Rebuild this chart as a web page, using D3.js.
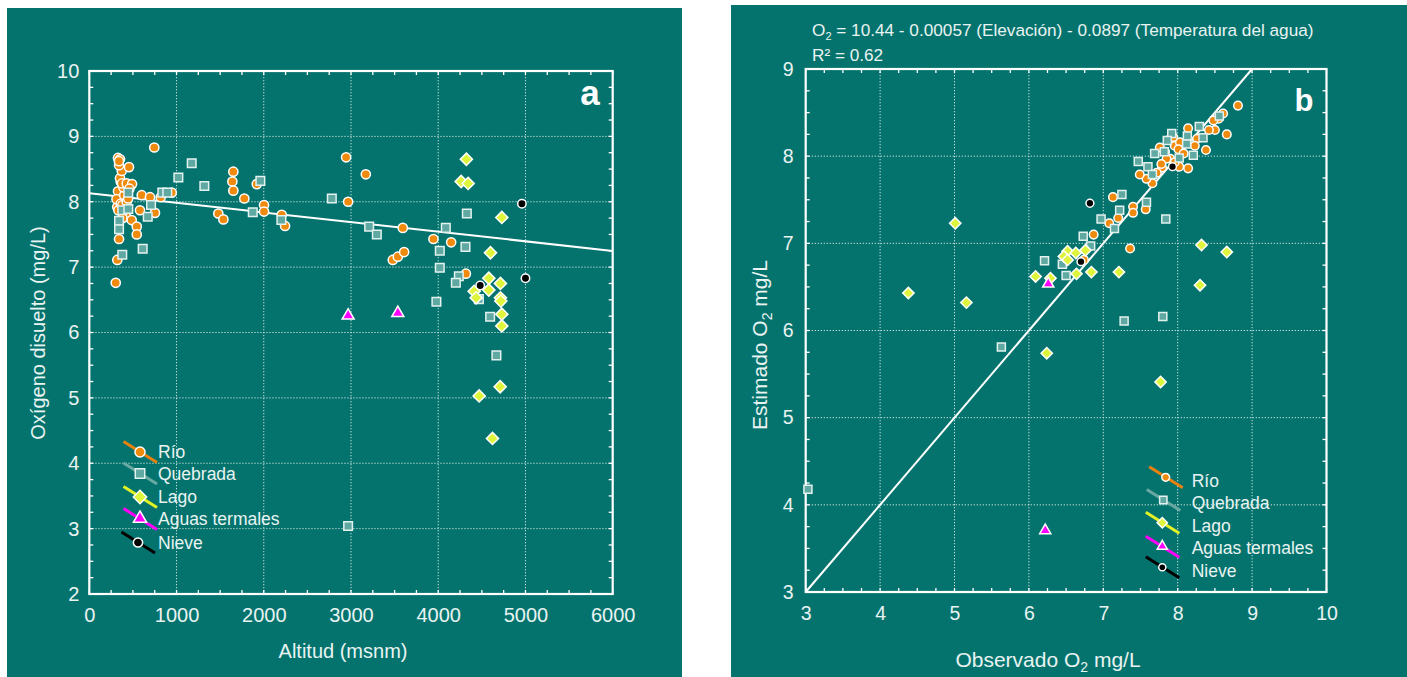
<!DOCTYPE html>
<html>
<head>
<meta charset="utf-8">
<script src="https://cdn.jsdelivr.net/npm/d3@7"></script>
<style>
  body { margin: 0; background: #fff; }
  svg { display: block; }
  text { font-family: "Liberation Sans", Arial, sans-serif; }
</style>
</head>
<body>
<svg id="chart" width="1407" height="677"></svg>
<script>
// ---------- Panel a: altitude (m a.s.l.) vs dissolved oxygen (mg/L) ----------
const rioA = [
  [303,6.76],[321,7.11],[341,7.43],[320,7.92],[333,7.87],[333,8.05],[329,8.16],[360,8.31],
  [352,8.36],[372,8.47],[341,8.56],[329,8.67],[352,8.65],[340,8.62],[312,8.04],[360,7.97],
  [380,7.95],[400,8.10],[390,8.22],[375,8.28],[455,8.53],[429,8.28],[490,8.27],[429,8.00],
  [445,8.05],[460,8.20],[421,7.77],[380,7.75],[486,7.72],[544,7.62],[544,7.50],[581,7.87],
  [601,8.10],[696,8.07],[753,7.83],[745,8.83],[819,8.07],[945,8.14],[1479,7.82],[1537,7.73],
  [1640,8.31],[1651,8.46],[1651,8.17],[1777,8.05],[1920,8.27],[2003,7.95],[2003,7.85],
  [2206,7.80],[2244,7.63],[2944,8.68],[2967,8.00],[3170,8.42],[3479,7.11],[3537,7.16],
  [3609,7.23],[3594,7.60],[3945,7.43],[4148,7.38],[4317,6.90]
];
const quebradaA = [
  [1174,8.59],[1021,8.37],[1319,8.24],[837,8.14],[894,8.14],[447,8.14],[708,7.95],[378,7.87],
  [447,7.89],[670,7.77],[341,7.71],[341,7.58],[612,7.28],[378,7.19],[1961,8.32],[1874,7.84],
  [2202,7.72],[2780,8.05],[3208,7.62],[3296,7.50],[4087,7.60],[4328,7.82],[4312,7.31],
  [4018,7.25],[4018,6.99],[4236,6.86],[4202,6.76],[3979,6.47],[4466,6.51],[4595,6.24],
  [4667,5.65],[2967,3.04]
];
const lagoA = [
  [4323,8.65],[4263,8.31],[4343,8.28],[4729,7.76],[4599,7.22],[4580,6.83],[4713,6.75],
  [4580,6.65],[4412,6.63],[4435,6.53],[4713,6.53],[4718,6.48],[4729,6.28],[4729,6.10],
  [4710,5.17],[4469,5.03],[4622,4.38]
];
const aguasA = [[2967,6.25],[3537,6.29]];
const nieveA = [[4959,7.97],[5000,6.83],[4481,6.72]];
// fitted line: O2 = 8.13 - 0.000147 * altitude
const fitA = { intercept: 8.13, slope: -0.000147 };
const xTicksA = [0,1000,2000,3000,4000,5000,6000];
const yTicksA = [2,3,4,5,6,7,8,9,10];

// ---------- Panel b: observed vs estimated O2 ----------
const rioB = [
  [8.81,8.58],[8.66,8.25],[8.61,8.49],[8.55,8.43],[8.48,8.41],[8.50,8.30],[8.42,8.30],
  [8.14,8.32],[8.26,8.20],[8.23,8.12],[8.38,8.07],[8.14,7.86],[8.02,7.88],[7.90,7.97],
  [7.79,7.87],[7.72,7.81],[7.66,7.69],[7.58,7.74],[7.49,7.79],[7.83,8.05],[7.96,8.12],
  [8.03,8.16],[7.76,8.10],[7.90,8.20],[8.01,8.08],[8.08,8.03],[7.94,8.22],[7.85,7.97],
  [7.96,7.93],[7.78,7.91],[7.13,7.53],[7.40,7.42],[7.40,7.35],[7.57,7.39],[7.20,7.29],
  [7.08,7.23],[6.87,7.10],[7.36,6.94],[6.74,6.81]
];
const quebradaB = [
  [8.56,8.46],[8.29,8.34],[8.34,8.21],[8.13,8.23],[8.12,8.14],[7.92,8.26],[7.86,8.18],
  [7.82,8.05],[7.69,8.03],[8.21,8.01],[8.02,7.98],[7.47,7.94],[7.60,7.88],[7.66,7.79],
  [7.25,7.56],[7.58,7.47],[7.22,7.38],[6.97,7.28],[7.15,7.17],[7.84,7.28],[6.73,7.08],
  [6.83,6.97],[6.21,6.80],[6.45,6.76],[6.50,6.63],[5.63,5.81],[7.28,6.11],[7.80,6.16],
  [3.03,4.18]
];
const lagoB = [
  [5.01,7.23],[4.38,6.43],[5.16,6.32],[6.24,5.74],[6.09,6.62],[6.29,6.60],[6.52,6.91],
  [6.47,6.85],[6.52,6.81],[6.63,6.89],[6.76,6.92],[6.64,6.65],[6.84,6.67],[7.21,6.67],
  [8.32,6.98],[8.66,6.90],[8.30,6.52],[7.77,5.41]
];
const aguasB = [[6.26,6.53],[6.22,3.70]];
const nieveB = [[6.82,7.46],[6.70,6.79],[7.93,7.88]];
// 1:1 reference line
const identityB = [[3,3],[9,9]];
const xTicksB = [3,4,5,6,7,8,9,10];
const yTicksB = [3,4,5,6,7,8,9];

const seriesNames = ["Río","Quebrada","Lago","Aguas termales","Nieve"];

// ---------- styling ----------
const TEAL = "#04736e";
const INK = "#e9f3f1";
const styles = {
  "Río":            { shape: "circle",   fill: "#ef8a0c", stroke: "#ffffff", line: "#e8820f" },
  "Quebrada":       { shape: "square",   fill: "#5fa9a2", stroke: "#e3f1ef", line: "#6aa9a2" },
  "Lago":           { shape: "diamond",  fill: "#def53c", stroke: "#ffffff", line: "#e2f224" },
  "Aguas termales": { shape: "triangle", fill: "#ff00ff", stroke: "#ffffff", line: "#ff00ff" },
  "Nieve":          { shape: "dot",      fill: "#000000", stroke: "#ffffff", line: "#000000" }
};

function symbolPath(shape, s) {
  const gen = d3.symbol();
  if (shape === "circle") return gen.type(d3.symbolCircle).size(Math.PI * (4.6*s) * (4.6*s))();
  if (shape === "dot") return gen.type(d3.symbolCircle).size(Math.PI * (4.2*s) * (4.2*s))();
  if (shape === "square" || shape === "diamond") return gen.type(d3.symbolSquare).size((8.6*s) * (8.6*s))();
  return gen.type(d3.symbolTriangle).size(Math.sqrt(3) / 4 * (12*s) * (12*s))();
}
function drawMarker(g, name, cx, cy, s) {
  const st = styles[name];
  return g.append("path")
    .attr("d", symbolPath(st.shape, s))
    .attr("transform", `translate(${cx},${cy})` + (st.shape === "diamond" ? " rotate(45)" : "") +
                        (st.shape === "triangle" ? " translate(0,-0.5)" : ""))
    .attr("fill", st.fill)
    .attr("stroke", st.stroke)
    .attr("stroke-width", 1.5);
}

const svg = d3.select("#chart");
svg.append("rect").attr("width", 1407).attr("height", 677).attr("fill", "#fff");
svg.append("rect").attr("x", 7).attr("y", 8).attr("width", 675).attr("height", 669).attr("fill", TEAL);
svg.append("rect").attr("x", 731).attr("y", 5).attr("width", 676).attr("height", 672).attr("fill", TEAL);

function drawPanel(o) {
  const g = svg.append("g");
  const x = d3.scaleLinear().domain(o.xDomain).range(o.xRange);
  const y = d3.scaleLinear().domain(o.yDomain).range(o.yRange);
  const [L, R] = o.xRange, [B, T] = o.yRange;

  // dotted grid at inner major ticks
  const grid = g.append("g").attr("stroke", "#d6eae7").attr("stroke-width", 1)
    .attr("stroke-dasharray", "1.3,1.7").attr("stroke-opacity", 0.9);
  grid.selectAll(".gx").data(o.xTicks.slice(1, -1)).join("line")
    .attr("x1", d => x(d)).attr("x2", d => x(d)).attr("y1", T).attr("y2", B);
  grid.selectAll(".gy").data(o.yTicks.slice(1, -1)).join("line")
    .attr("y1", d => y(d)).attr("y2", d => y(d)).attr("x1", L).attr("x2", R);

  // small inward ticks on all four sides
  const mt = g.append("g").attr("stroke", "#ffffff").attr("stroke-width", 1.3);
  const xm = d3.range(o.xDomain[0], o.xDomain[1] + 1e-9, o.xMinor);
  const ym = d3.range(o.yDomain[0], o.yDomain[1] + 1e-9, o.yMinor);
  xm.forEach(v => {
    mt.append("line").attr("x1", x(v)).attr("x2", x(v)).attr("y1", B).attr("y2", B - 4);
    mt.append("line").attr("x1", x(v)).attr("x2", x(v)).attr("y1", T).attr("y2", T + 4);
  });
  ym.forEach(v => {
    mt.append("line").attr("y1", y(v)).attr("y2", y(v)).attr("x1", L).attr("x2", L + 4);
    mt.append("line").attr("y1", y(v)).attr("y2", y(v)).attr("x1", R).attr("x2", R - 4);
  });

  // frame
  g.append("rect").attr("x", L).attr("y", T).attr("width", R - L).attr("height", B - T)
    .attr("fill", "none").attr("stroke", "#ffffff").attr("stroke-width", 2.2);

  // axes (labels only)
  g.append("g").attr("transform", `translate(0,${B})`)
    .call(d3.axisBottom(x).tickValues(o.xTicks).tickFormat(d3.format("d")).tickSize(0).tickPadding(o.xPad))
    .call(a => a.select(".domain").remove())
    .attr("font-size", o.tickFont).attr("font-family", "Liberation Sans, Arial, sans-serif").attr("color", INK);
  g.append("g").attr("transform", `translate(${L},0)`)
    .call(d3.axisLeft(y).tickValues(o.yTicks).tickFormat(d3.format("d")).tickSize(0).tickPadding(o.yPad))
    .call(a => a.select(".domain").remove())
    .attr("font-size", o.tickFont).attr("font-family", "Liberation Sans, Arial, sans-serif").attr("color", INK);

  // fitted / reference line
  g.append("line")
    .attr("x1", x(o.line[0][0])).attr("y1", y(o.line[0][1]))
    .attr("x2", x(o.line[1][0])).attr("y2", y(o.line[1][1]))
    .attr("stroke", "#ffffff").attr("stroke-width", 2);

  // points
  o.series.forEach(([name, data]) => {
    const pg = g.append("g");
    data.forEach(d => drawMarker(pg, name, x(d[0]), y(d[1]), o.markerScale));
  });

  // legend
  const lg = g.append("g");
  seriesNames.forEach((name, i) => {
    const [mx, my] = o.legend.markers[i];
    lg.append("line").attr("x1", mx - 16.5).attr("y1", my - 10.5).attr("x2", mx + 17).attr("y2", my + 10.5)
      .attr("stroke", styles[name].line).attr("stroke-width", 3);
    drawMarker(lg, name, mx, my, o.legend.scale);
    lg.append("text").attr("x", o.legend.textX).attr("y", o.legend.baselines[i])
      .attr("font-size", o.legend.font).attr("fill", INK).text(name);
  });

  return { g, x, y };
}

// ----- Panel a -----
const pa = drawPanel({
  xDomain: [0, 6000], yDomain: [2, 10],
  xRange: [89.3, 612.7], yRange: [594, 71],
  xTicks: xTicksA, yTicks: yTicksA, xMinor: 250, yMinor: 0.25,
  tickFont: 20, xPad: 14, yPad: 10, markerScale: 1,
  line: [[0, fitA.intercept], [6000, fitA.intercept + fitA.slope * 6000]],
  series: [["Río", rioA], ["Quebrada", quebradaA], ["Lago", lagoA], ["Aguas termales", aguasA], ["Nieve", nieveA]],
  legend: {
    markers: [[140,452],[140,473.5],[140,497],[140,519],[138,542.5]],
    textX: 158, baselines: [458,480,502.5,525,549], font: 17.5, scale: 1.1
  }
});
pa.g.append("text").attr("x", 343).attr("y", 658).attr("text-anchor", "middle")
  .attr("font-size", 20).attr("fill", INK).text("Altitud (msnm)");
pa.g.append("text").attr("transform", "translate(45,333) rotate(-90)").attr("text-anchor", "middle")
  .attr("font-size", 20).attr("fill", INK).text("Oxígeno disuelto (mg/L)");
pa.g.append("text").attr("x", 590).attr("y", 105).attr("text-anchor", "middle")
  .attr("font-size", 35).attr("font-weight", "bold").attr("fill", "#ffffff")
  .attr("font-family", "DejaVu Sans Condensed, DejaVu Sans, sans-serif").text("a");

// ----- Panel b -----
const pb = drawPanel({
  xDomain: [3, 10], yDomain: [3, 9],
  xRange: [805.7, 1326.5], yRange: [592, 69],
  xTicks: xTicksB, yTicks: yTicksB, xMinor: 0.25, yMinor: 0.25,
  tickFont: 19.5, xPad: 14, yPad: 12, markerScale: 0.93,
  line: identityB,
  series: [["Río", rioB], ["Quebrada", quebradaB], ["Lago", lagoB], ["Aguas termales", aguasB], ["Nieve", nieveB]],
  legend: {
    markers: [[1165.7,477.3],[1163.3,500],[1162.3,522.7],[1162.3,546.7],[1162.3,567.3]],
    textX: 1191.7, baselines: [486.7,509.3,531.7,554,576.7], font: 17.5, scale: 0.85
  }
});
const eq = pb.g.append("text").attr("x", 812).attr("y", 36).attr("font-size", 17.2).attr("fill", INK);
eq.append("tspan").text("O");
eq.append("tspan").attr("font-size", 11).attr("dy", 4).text("2");
eq.append("tspan").attr("dy", -4).text(" = 10.44 - 0.00057 (Elevación) - 0.0897 (Temperatura del agua)");
pb.g.append("text").attr("x", 812).attr("y", 61).attr("font-size", 17.2).attr("fill", INK).text("R² = 0.62");

const xt = pb.g.append("text").attr("x", 1048).attr("y", 667).attr("text-anchor", "middle")
  .attr("font-size", 21).attr("fill", INK);
xt.append("tspan").text("Observado O");
xt.append("tspan").attr("font-size", 14).attr("dy", 5).text("2");
xt.append("tspan").attr("dy", -5).text(" mg/L");

const yt = pb.g.append("text").attr("transform", "translate(767,345) rotate(-90)").attr("text-anchor", "middle")
  .attr("font-size", 21).attr("fill", INK);
yt.append("tspan").text("Estimado O");
yt.append("tspan").attr("font-size", 14).attr("dy", 5).text("2");
yt.append("tspan").attr("dy", -5).text(" mg/L");

pb.g.append("text").attr("x", 1304).attr("y", 111).attr("text-anchor", "middle")
  .attr("font-size", 31).attr("font-weight", "bold").attr("fill", "#ffffff")
  .attr("font-family", "DejaVu Sans Condensed, DejaVu Sans, sans-serif").text("b");
</script>
</body>
</html>
